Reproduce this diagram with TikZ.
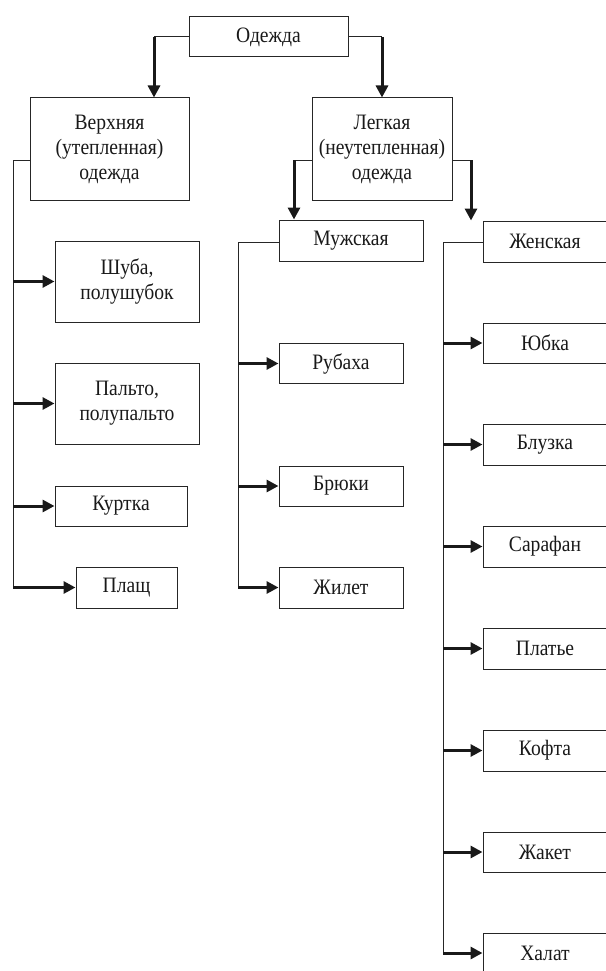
\documentclass[tikz,border=0pt]{standalone}
\usepackage{fontspec}
\setmainfont{Liberation Serif}[FakeStretch=0.89]
\usetikzlibrary{arrows.meta}
\tikzset{
  bx/.style={draw=black!85, line width=1pt, inner sep=0pt, align=center,
    font=\fontsize{22}{25}\selectfont, text=black!90},
  conn/.style={draw=black!85, line width=1pt},
  arr/.style={draw=black!90, line width=3pt, -{Triangle[length=12pt,width=12pt]}},
}
\begin{document}
\begin{tikzpicture}[x=1pt,y=-1pt]
\useasboundingbox (0,0) rectangle (605,971);
% top levels
\node[bx, minimum width=159, minimum height=40] (od) at (268.5,37) {Одежда};
\node[bx, minimum width=159, minimum height=102] (ver) at (109.5,149) {Верхняя\\(утепленная)\\одежда};
\node[bx, minimum width=140, minimum height=102] (leg) at (382,149) {Легкая\\(неутепленная)\\одежда};
\node[bx, minimum width=144, minimum height=41] (muz) at (351,240.5) {Мужская};
\node[bx, minimum width=124, minimum height=41] (zhen) at (545,241.5) {Женская};
% outer clothes
\node[bx, minimum width=144, minimum height=81] (shuba) at (127,281.5) {Шуба,\\полушубок};
\node[bx, minimum width=144, minimum height=81] (palto) at (127,403.5) {Пальто,\\полупальто};
\node[bx, minimum width=132, minimum height=40] (kurtka) at (121,506) {Куртка};
\node[bx, minimum width=101, minimum height=41] (plasch) at (126.5,587.5) {Плащ};
% men
\node[bx, minimum width=124, minimum height=40] (rub) at (341,363.5) {Рубаха};
\node[bx, minimum width=124, minimum height=40] (bryu) at (341,486) {Брюки};
\node[bx, minimum width=124, minimum height=41] (zhil) at (341,587.5) {Жилет};
% women
\node[bx, minimum width=124, minimum height=40] (yub) at (545,343) {Юбка};
\node[bx, minimum width=124, minimum height=41] (bluz) at (545,444.5) {Блузка};
\node[bx, minimum width=124, minimum height=41] (saraf) at (545,546.5) {Сарафан};
\node[bx, minimum width=124, minimum height=41] (plat) at (545,648.5) {Платье};
\node[bx, minimum width=124, minimum height=41] (kofta) at (545,750.5) {Кофта};
\node[bx, minimum width=124, minimum height=40] (zhak) at (545,852) {Жакет};
\node[bx, minimum width=124, minimum height=40] (halat) at (545,953) {Халат};
% top connectors
\coordinate (c1) at (154,37);
\coordinate (c2) at (382,37);
\draw[conn] (od.west) -- (c1);
\draw[arr] (c1) -- (c1 |- ver.north);
\draw[conn] (od.east) -- (c2);
\draw[arr] (c2) -- (c2 |- leg.north);
\coordinate (c3) at (294,160);
\coordinate (c4) at (471,160);
\draw[conn] (leg.west |- c3) -- (c3);
\draw[arr] (c3) -- (c3 |- muz.north);
\draw[conn] (leg.east |- c4) -- (c4);
\draw[arr] (c4) -- (c4 |- zhen.north);
% left trunk
\coordinate (t1) at (13,160);
\coordinate (t1e) at (13,588);
\draw[conn] (ver.west |- t1) -- (t1) -- (t1e);
\foreach \n in {shuba,palto,kurtka,plasch}
  \draw[arr] (t1 |- \n.west) -- (\n.west);
% men trunk
\coordinate (t2) at (238,242);
\coordinate (t2e) at (238,588);
\draw[conn] (muz.west |- t2) -- (t2) -- (t2e);
\foreach \n in {rub,bryu,zhil}
  \draw[arr] (t2 |- \n.west) -- (\n.west);
% women trunk
\coordinate (t3) at (443,242);
\coordinate (t3e) at (443,953);
\draw[conn] (zhen.west |- t3) -- (t3) -- (t3e);
\foreach \n in {yub,bluz,saraf,plat,kofta,zhak,halat}
  \draw[arr] (t3 |- \n.west) -- (\n.west);
\end{tikzpicture}
\end{document}
